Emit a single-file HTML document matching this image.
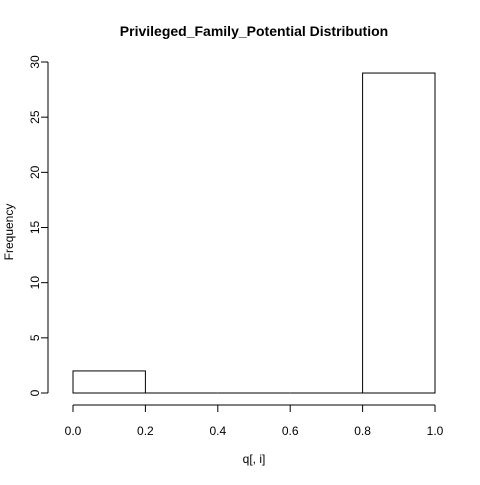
<!DOCTYPE html>
<html><head><meta charset="utf-8"><style>body{margin:0;background:#fff}svg text{font-family:"Liberation Sans",Arial,sans-serif}</style></head>
<body>
<svg id="chart" width="480" height="480" xmlns="http://www.w3.org/2000/svg">
<rect width="480" height="480" fill="#fff"/>
<text x="254" y="36" text-anchor="middle" font-size="14" font-weight="bold">Privileged_Family_Potential Distribution</text>
<text x="254" y="463" text-anchor="middle" font-size="12">q[, i]</text>
<text transform="translate(13,232) rotate(-90)" text-anchor="middle" font-size="12">Frequency</text>
<g id="bars"></g><g id="xaxis"></g><g id="yaxis"></g>
</svg>
<script>
const binEdges=[0,0.2,0.4,0.6,0.8,1.0];
const counts=[2,0,0,0,29];
const xTicks=["0.0","0.2","0.4","0.6","0.8","1.0"];
const yTicks=[0,5,10,15,20,25,30];
const NS="http://www.w3.org/2000/svg";
const xs=v=>73+v*362, ys=v=>393-v*(331/30);
function mk(t,a,p){const e=document.createElementNS(NS,t);for(const k in a)e.setAttribute(k,a[k]);p.appendChild(e);return e;}
const bars=document.getElementById('bars');
counts.forEach((c,i)=>{const x0=xs(binEdges[i]),x1=xs(binEdges[i+1]);
let r;
if(c>0){r=mk('rect',{x:x0,y:ys(c),width:x1-x0,height:ys(0)-ys(c),fill:'none',stroke:'#000','stroke-width':1},bars);}
else{r=mk('line',{x1:x0,x2:x1,y1:ys(0),y2:ys(0),stroke:'#000','stroke-width':1},bars);}

});
const xa=document.getElementById('xaxis');
mk('line',{x1:xs(0),x2:xs(1),y1:405,y2:405,stroke:'#000'},xa);
xTicks.forEach(t=>{const x=xs(parseFloat(t));mk('line',{x1:x,x2:x,y1:405,y2:412,stroke:'#000'},xa);
const e=mk('text',{x:x,y:435,'text-anchor':'middle','font-size':12},xa);e.textContent=t;

});
const ya=document.getElementById('yaxis');
mk('line',{x1:48,x2:48,y1:ys(0),y2:ys(30),stroke:'#000'},ya);
yTicks.forEach(t=>{const y=ys(t);mk('line',{x1:41,x2:48,y1:y,y2:y,stroke:'#000'},ya);
const e=mk('text',{transform:`translate(39,${y}) rotate(-90)`,'text-anchor':'middle','font-size':12},ya);e.textContent=t;

});
</script>
</body></html>
